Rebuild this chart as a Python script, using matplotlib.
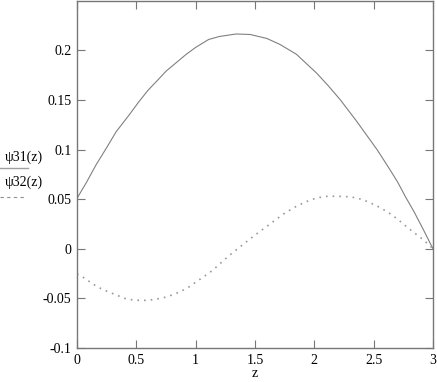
import numpy as np
import matplotlib.pyplot as plt

# psi31(z)
z31 = [0.0, 0.08, 0.16, 0.25, 0.33, 0.44, 0.52, 0.60, 0.68, 0.75, 0.84, 0.92,
       1.0, 1.11, 1.2, 1.34, 1.46, 1.6, 1.71, 1.85, 1.93, 2.02, 2.12, 2.22,
       2.29, 2.36, 2.45, 2.53, 2.62, 2.70, 2.77, 2.84, 2.92, 3.0]
psi31 = [0.0508, 0.067, 0.0845, 0.102, 0.118, 0.135, 0.148, 0.160, 0.170, 0.179,
         0.188, 0.196, 0.203, 0.211, 0.214, 0.2165, 0.216, 0.212, 0.206, 0.196,
         0.187, 0.177, 0.164, 0.150, 0.139, 0.128, 0.113, 0.0997, 0.083, 0.0677,
         0.052, 0.0374, 0.019, 0.0]

# psi32(z)
z32 = [0.0, 0.07, 0.13, 0.2, 0.27, 0.34, 0.41, 0.47, 0.53, 0.58, 0.64, 0.70,
       0.75, 0.82, 0.89, 0.95, 1.0, 1.07, 1.14, 1.21, 1.28, 1.38, 1.48, 1.57,
       1.66, 1.74, 1.82, 1.92, 2.02, 2.1, 2.19, 2.28, 2.36, 2.45, 2.53, 2.62,
       2.70, 2.77, 2.84, 2.92, 3.0]
psi32 = [-0.0253, -0.030, -0.0353, -0.040, -0.0437, -0.047, -0.0503, -0.0515,
         -0.052, -0.052, -0.0513, -0.050, -0.0487, -0.0458, -0.042, -0.038,
         -0.0337, -0.028, -0.022, -0.0145, -0.007, 0.0025, 0.012, 0.020, 0.028,
         0.035, 0.041, 0.047, 0.0513, 0.0528, 0.053, 0.0525, 0.0513, 0.0475,
         0.043, 0.037, 0.030, 0.023, 0.0163, 0.009, 0.0]

xticks = [0, 0.5, 1, 1.5, 2, 2.5, 3]
xlabels = ["0", "0.5", "1", "1.5", "2", "2.5", "3"]
yticks = [-0.1, -0.05, 0, 0.05, 0.1, 0.15, 0.2]
ylabels = ["-0.1", "-0.05", "0", "0.05", "0.1", "0.15", "0.2"]

plt.rcParams['font.family'] = ['Liberation Serif', 'DejaVu Serif']
fig = plt.figure(figsize=(4.37, 3.82), dpi=100)
ax = fig.add_axes([77/437, 1-348/382, (433-77)/437, 348/382 - 0.002])

grey = '#777777'
ax.plot(z31, psi31, color='#808080', lw=0.8, solid_joinstyle='round')
ax.plot(z32, psi32, color='#999999', lw=1.2, linestyle=(0, (1, 3)))

ax.set_xlim(0, 3)
ax.set_ylim(-0.1, 0.25)
ax.set_xticks(xticks)
ax.set_xticklabels(xlabels)
ax.set_yticks(yticks)
ax.set_yticklabels(ylabels)
ax.tick_params(direction='in', length=6, width=0.8, color=grey,
               top=True, right=True, labelsize=10, pad=4)
for s in ax.spines.values():
    s.set_color(grey)
    s.set_linewidth(1.0)

ax.set_xlabel('z', fontsize=10)
ax.xaxis.set_label_coords(0.5, -19/347)

# legend on the left, outside the axes
fig.text(5/437, 1-157/382, '\u03c831(z)', fontsize=10, va='center', ha='left')
fig.add_artist(plt.Line2D([0, 28/437], [1-168/382]*2, color='#a0a0a0', lw=1.0))
fig.text(5/437, 1-182/382, '\u03c832(z)', fontsize=10, va='center', ha='left')
fig.add_artist(plt.Line2D([0, 25/437], [1-197/382]*2, color='#909090', lw=0.8,
                          linestyle=(0, (3, 3))))

fig.savefig('out.png', dpi=100)
